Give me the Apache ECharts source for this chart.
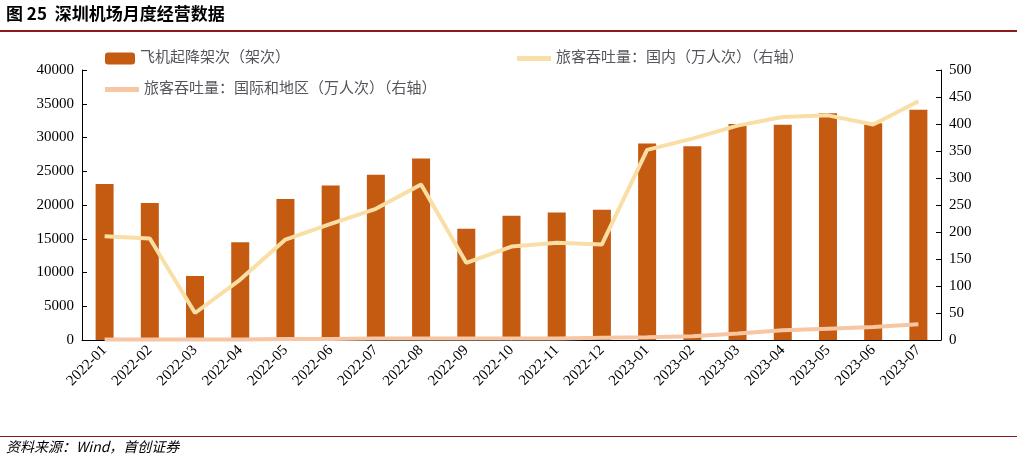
<!DOCTYPE html>
<html>
<head>
<meta charset="utf-8">
<script src="https://cdn.jsdelivr.net/npm/echarts@6/dist/echarts.min.js"></script>
<style>
  html, body { margin: 0; padding: 0; background: #fff; }
  #chart { width: 1017px; height: 464px; }
</style>
</head>
<body>
<div id="chart"></div>
<script>
var months = ['2022-01', '2022-02', '2022-03', '2022-04', '2022-05', '2022-06', '2022-07', '2022-08', '2022-09', '2022-10',
  '2022-11', '2022-12', '2023-01', '2023-02', '2023-03', '2023-04', '2023-05', '2023-06', '2023-07'];
// 飞机起降架次（架次）
var flights = [23100, 20300, 9500, 14500, 20900, 22900, 24500, 26900, 16500, 18400,
  18900, 19300, 29100, 28700, 32000, 31900, 33600, 32100, 34100];
// 旅客吞吐量：国内（万人次）
var domestic = [192, 188, 50, 112, 186, 215, 243, 288, 143, 173,
  180, 177, 352, 373, 397, 413, 416, 399, 442];
// 旅客吞吐量：国际和地区（万人次）
var intl = [1, 1, 1, 1, 2, 2, 3, 3, 3, 3,
  3, 4, 5, 7, 12, 18, 21, 24, 29];

var serif = 'Liberation Serif, Noto Sans CJK SC';
var chart = echarts.init(document.getElementById('chart'));
chart.setOption({
  animation: false,
  textStyle: { fontFamily: serif, color: '#000' },
  graphic: [
    { type: 'text', left: 6, top: 5, style: { text: '图 25  深圳机场月度经营数据', font: 'bold 17px Noto Sans CJK SC', fill: '#000' } },
    { type: 'rect', shape: { x: 0, y: 30, width: 1017, height: 2 }, style: { fill: '#8B1A1A' } },
    { type: 'rect', shape: { x: 0, y: 436, width: 1017, height: 1 }, style: { fill: '#8B1A1A' } },
    { type: 'text', left: 6, top: 440, style: { text: '资料来源：Wind，首创证券', font: 'italic 14px Noto Sans CJK SC', fill: '#000' } }
  ],
  legend: [
    { data: ['飞机起降架次（架次）'], left: 100, top: 46, itemWidth: 30, itemHeight: 12,
      textStyle: { fontSize: 15, fontFamily: serif } },
    { data: ['旅客吞吐量：国内（万人次）（右轴）'], left: 512, top: 46, itemWidth: 34, itemHeight: 5, icon: 'rect',
      textStyle: { fontSize: 15, fontFamily: serif } },
    { data: ['旅客吞吐量：国际和地区（万人次）（右轴）'], left: 100, top: 77, itemWidth: 34, itemHeight: 5, icon: 'rect',
      textStyle: { fontSize: 15, fontFamily: serif } }
  ],
  grid: { left: 82, right: 76, top: 70, bottom: 124 },
  xAxis: {
    type: 'category', data: months,
    axisLine: { lineStyle: { color: '#000' } },
    axisTick: { show: false },
    axisLabel: { rotate: 45, fontSize: 15, color: '#000', interval: 0 }
  },
  yAxis: [
    { type: 'value', min: 0, max: 40000, interval: 5000,
      axisLine: { show: true, lineStyle: { color: '#000' } }, axisTick: { show: true, inside: true },
      splitLine: { show: false }, axisLabel: { fontSize: 15, color: '#000', formatter: function (v) { return String(v); } } },
    { type: 'value', min: 0, max: 500, interval: 50,
      axisLine: { show: true, lineStyle: { color: '#000' } }, axisTick: { show: true, inside: true },
      splitLine: { show: false }, axisLabel: { fontSize: 15, color: '#000' } }
  ],
  series: [
    { name: '飞机起降架次（架次）', type: 'bar', data: flights, barWidth: 18,
      itemStyle: { color: '#C55A11' } },
    { name: '旅客吞吐量：国内（万人次）（右轴）', type: 'line', yAxisIndex: 1, data: domestic,
      symbol: 'none', lineStyle: { width: 4, color: '#F9DFA6' }, itemStyle: { color: '#F9DFA6' } },
    { name: '旅客吞吐量：国际和地区（万人次）（右轴）', type: 'line', yAxisIndex: 1, data: intl,
      symbol: 'none', lineStyle: { width: 4, color: '#F6C6A5' }, itemStyle: { color: '#F6C6A5' } }
  ]
});
</script>
</body>
</html>
